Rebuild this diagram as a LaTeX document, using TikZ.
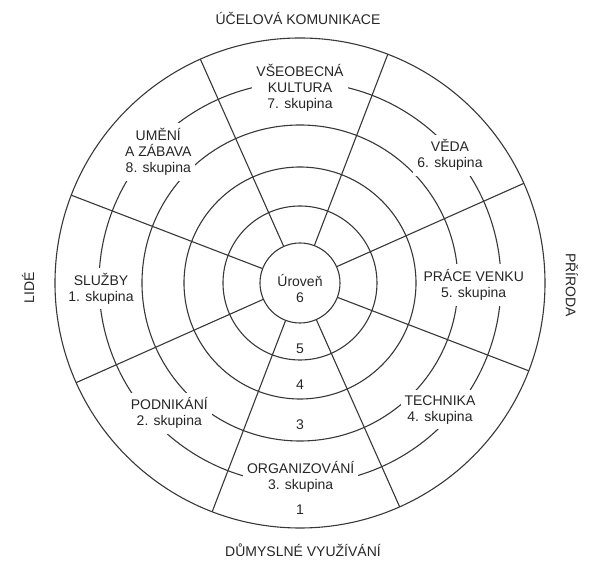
\documentclass[tikz,border=0pt]{standalone}
\usepackage{fontspec}
\setmainfont{Liberation Sans}
\usepackage{tikz}
\usetikzlibrary{positioning}
\def\lbl{\fontsize{14}{16}\selectfont}

\begin{document}
\begin{tikzpicture}[x=1pt,y=1pt,
  ring/.style={draw=black!78,line width=1.1pt},
  skup/.style={fill=white,align=center,inner xsep=4pt,inner ysep=5pt,text=black!85,font=\lbl},
  cislo/.style={text=black!85,font=\lbl},
  osa/.style={text=black!85,font=\lbl}]
\useasboundingbox (-300,-278) rectangle (300,283);
\foreach \r in {40,77,116,158,201,245}
  \draw[ring] (0,0) circle (\r);
\foreach \a in {24,69,114,159,204,249,294,339}
  \draw[ring] (\a:40) -- (\a:245);
\node[cislo,align=center] (uroven) at (0,-5.3) {Úroveň\\6};
\node[cislo] (c5) at (0,-65.3) {5};
\node[cislo] (c4) at (0,-102) {4};
\node[cislo] (c3) at (0,-142) {3};
\node[cislo] (c1) at (0,-227) {1};
\node[skup] (kultura) at (0,195) {VŠEOBECNÁ\\KULTURA\\7. skupina};
\node[skup] (umeni) at (-141.7,131) {UMĚNÍ\\A ZÁBAVA\\8. skupina};
\node[skup] (veda) at (150,127.7) {VĚDA\\6. skupina};
\node[skup] (sluzby) at (-199,-5.7) {SLUŽBY\\1. skupina};
\node[skup] (prace) at (173.7,-2) {PRÁCE VENKU\\5. skupina};
\node[skup] (podnik) at (-130.7,-130.3) {PODNIKÁNÍ\\2. skupina};
\node[skup] (technika) at (140,-126.7) {TECHNIKA\\4. skupina};
\node[skup] (organiz) at (0.7,-194.2) {ORGANIZOVÁNÍ\\3. skupina};
\node[osa,anchor=base] (ucel) at (-2,258) {ÚČELOVÁ KOMUNIKACE};
\node[osa,anchor=base] (dumysl) at (3,-273.7) {DŮMYSLNÉ VYUŽÍVÁNÍ};
\node[osa,rotate=90] (lide) at (-272,-5) {LIDÉ};
\node[osa,rotate=-90] (priroda) at (272,-2) {PŘÍRODA};
\end{tikzpicture}
\end{document}
